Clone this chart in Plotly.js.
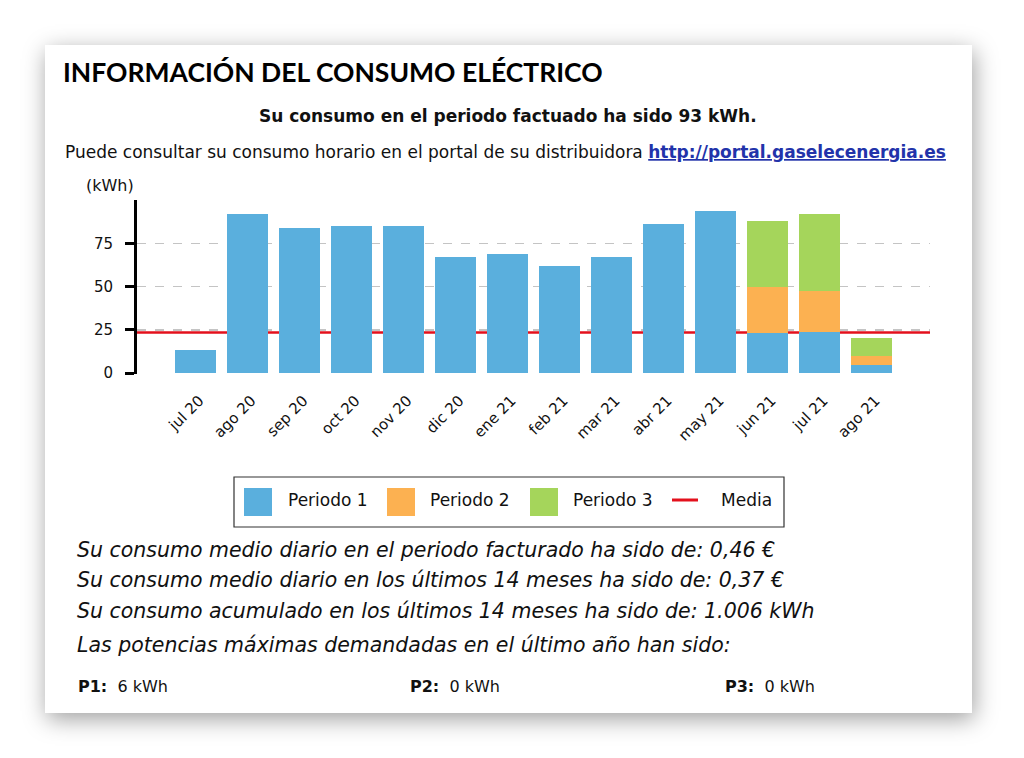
<!DOCTYPE html>
<html>
<head>
<meta charset="utf-8">
<script src="https://cdn.plot.ly/plotly-3.0.1.min.js"></script>
<style>
  html, body { margin: 0; padding: 0; background: #ffffff; width: 1024px; height: 758px; overflow: hidden; }
  #card { position: absolute; left: 45px; top: 45px; width: 927px; height: 668px; background: #ffffff;
          box-shadow: 2px 6px 22px rgba(0,0,0,0.38); }
  #chart { position: absolute; left: 0; top: 0; width: 1024px; height: 758px; }
</style>
</head>
<body>
<div id="card"></div>
<div id="chart"></div>
<script>
// ---- data ----
const months = ["jul 20","ago 20","sep 20","oct 20","nov 20","dic 20","ene 21","feb 21","mar 21","abr 21","may 21","jun 21","jul 21","ago 21"];
const periodo1 = [13.5, 92, 84, 85, 85, 67, 69, 62, 67, 86, 93.5, 23, 23.5, 4.5];
const periodo2 = [null, null, null, null, null, null, null, null, null, null, null, 26.5, 24, 5.5];
const periodo3 = [null, null, null, null, null, null, null, null, null, null, null, 38.5, 44.5, 10.5];
const media = 23.4;
const seriesNames = ["Periodo 1", "Periodo 2", "Periodo 3", "Media"];
const yTicks = [0, 25, 50, 75];

const titleText = "INFORMACIÓN DEL CONSUMO ELÉCTRICO";
const subtitleText = "Su consumo en el periodo factuado ha sido 93 kWh.";
const portalText = "Puede consultar su consumo horario en el portal de su distribuidora";
const portalLink = "http://portal.gaselecenergia.es";
const infoLines = [
  "Su consumo medio diario en el periodo facturado ha sido de: 0,46 €",
  "Su consumo medio diario en los últimos 14 meses ha sido de: 0,37 €",
  "Su consumo acumulado en los últimos 14 meses ha sido de: 1.006 kWh",
  "Las potencias máximas demandadas en el último año han sido:"
];
const potLabels = ["P1:", "P2:", "P3:"];
const potValues = ["6 kWh", "0 kWh", "0 kWh"];

// ---- style ----
const C1 = "#5aafdd", C2 = "#fcb151", C3 = "#a5d55b", CM = "#e3101c";
const FONT = "DejaVu Sans, Verdana, sans-serif";

// geometry (pixels)
const L = 137, R = 94, T = 200, B = 384;
const W = 1024 - L - R, H = 758 - T - B;
const px = x => (x - L) / W;
const py = y => (758 - B - y) / H;

const traces = [
  {type: "bar", x: months, y: periodo1, name: seriesNames[0], marker: {color: C1}, showlegend: false},
  {type: "bar", x: months, y: periodo2, name: seriesNames[1], marker: {color: C2}, showlegend: false},
  {type: "bar", x: months, y: periodo3, name: seriesNames[2], marker: {color: C3}, showlegend: false}
];

const shapes = [
  {type: "line", xref: "paper", yref: "y", x0: 0, x1: 1, y0: media, y1: media,
   line: {color: CM, width: 2.5}, layer: "below"}
];
const annotations = [];

function txt(text, x, y, opts) {
  annotations.push(Object.assign({
    text: text, xref: "paper", yref: "paper", x: px(x), y: py(y),
    xanchor: "left", yanchor: "middle", showarrow: false,
    font: {family: FONT, size: 14, color: "#111"}
  }, opts || {}));
}

// header texts
txt(titleText, 61, 72, {font: {family: "Lato, Open Sans, sans-serif", size: 26.5, color: "#000", weight: 700}});
txt("<b>" + subtitleText + "</b>", 508, 116, {xanchor: "center", font: {family: FONT, size: 17, color: "#111"}});
txt(portalText + " <a href=\"" + portalLink + "\" style=\"color:#2233aa\"><b><span style=\"text-decoration:underline\">" + portalLink + "</span></b></a>", 63, 152,
    {font: {family: FONT, size: 17, color: "#111"}});
txt("(kWh)", 84, 185, {font: {family: FONT, size: 16, color: "#111"}});

// custom legend
shapes.push({type: "rect", xref: "paper", yref: "paper", x0: px(234), x1: px(784), y0: py(477), y1: py(527),
             line: {color: "#333", width: 1.2}, fillcolor: "rgba(255,255,255,0)"});
const legColors = [C1, C2, C3];
const swX = [244, 387, 530];
const txX = [286, 428, 571];
for (let i = 0; i < 3; i++) {
  shapes.push({type: "rect", xref: "paper", yref: "paper", x0: px(swX[i]), x1: px(swX[i] + 28), y0: py(488), y1: py(516),
               line: {width: 0}, fillcolor: legColors[i]});
  txt(seriesNames[i], txX[i], 500, {font: {family: FONT, size: 17, color: "#111"}});
}
shapes.push({type: "line", xref: "paper", yref: "paper", x0: px(672), x1: px(698), y0: py(500), y1: py(500),
             line: {color: CM, width: 3}});
txt(seriesNames[3], 719, 500, {font: {family: FONT, size: 17, color: "#111"}});

// info lines
const infoY = [550, 580, 611, 645];
infoLines.forEach((s, i) => txt("<i>" + s + "</i>", 75, infoY[i], {font: {family: FONT, size: 20.5, color: "#111"}}));
const potX = [76, 408, 723];
potLabels.forEach((s, i) => txt("<b>" + s + "</b>&nbsp; " + potValues[i], potX[i], 686, {font: {family: FONT, size: 16, color: "#111"}}));

const layout = {
  width: 1024, height: 758,
  margin: {l: L, r: R, t: T, b: B, pad: 0},
  paper_bgcolor: "rgba(0,0,0,0)", plot_bgcolor: "rgba(0,0,0,0)",
  barmode: "stack", bargap: 0.21,
  showlegend: false,
  xaxis: {
    type: "category", range: [-1.125, 14.125], tickangle: -45,
    showgrid: false, zeroline: false, showline: false, ticks: "",
    ticklabelstandoff: 14, ticklabelshift: 4,
    tickfont: {family: FONT, size: 15, color: "#111"}, fixedrange: true
  },
  yaxis: {
    range: [-0.5, 100], tickvals: yTicks, ticktext: yTicks.map(String),
    showline: true, linecolor: "#000", linewidth: 3,
    ticks: "outside", ticklen: 9, tickwidth: 3, tickcolor: "#000",
    ticklabelstandoff: 9,
    showgrid: true, gridcolor: "#c4c4c4", gridwidth: 1.3, griddash: "dash",
    zeroline: false, tickfont: {family: FONT, size: 15, color: "#111"}, fixedrange: true
  },
  shapes: shapes,
  annotations: annotations
};

Plotly.newPlot("chart", traces, layout, {displayModeBar: false, staticPlot: true});
</script>
</body>
</html>
